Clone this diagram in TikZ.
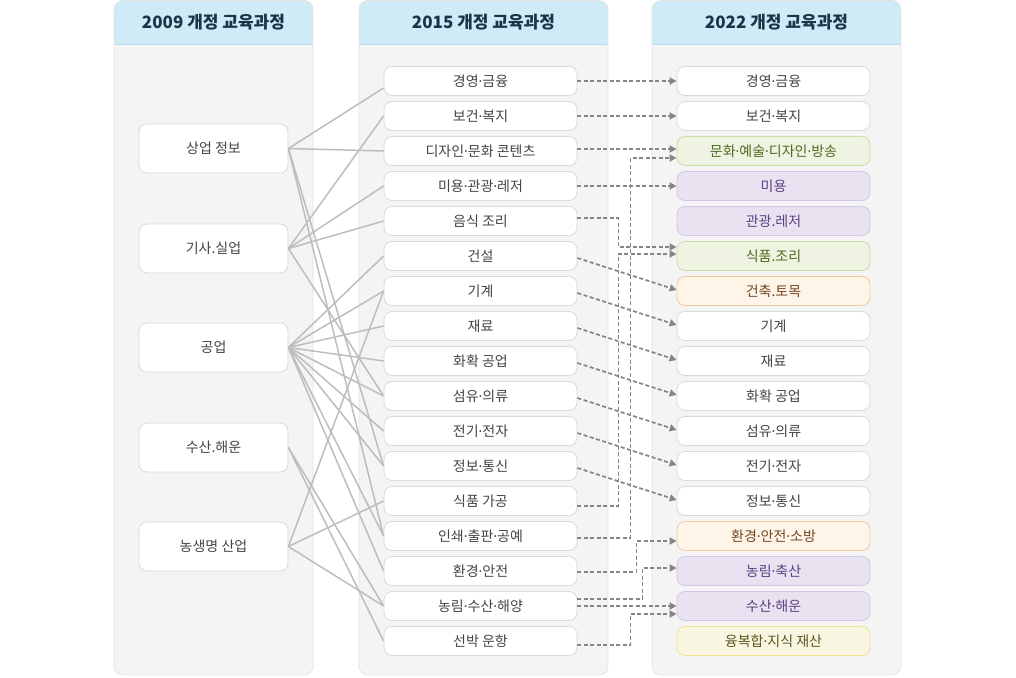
\documentclass[tikz,border=0pt]{standalone}
\usepackage{fontspec}
\setmainfont{Noto Sans CJK KR}
\newfontfamily\latinf{Noto Sans}
\newcommand\dt{{\latinf\char"00B7}}
\usetikzlibrary{arrows.meta,calc}
\definecolor{panelfill}{HTML}{F4F4F4}
\definecolor{panelline}{HTML}{E4E4E4}
\definecolor{hdrfill}{HTML}{CEEBF7}
\definecolor{hdrline}{HTML}{B9DDEC}
\definecolor{hdrtxt}{HTML}{1B3544}
\definecolor{boxline}{HTML}{DADADA}
\definecolor{txt}{HTML}{444444}
\definecolor{conncol}{HTML}{BDBDBD}
\definecolor{dashcol}{HTML}{858585}
\definecolor{gfill}{HTML}{EEF3E2}\definecolor{gline}{HTML}{C9DEA3}\definecolor{gtxt}{HTML}{4D6A1E}
\definecolor{pfill}{HTML}{E9E3F1}\definecolor{pline}{HTML}{D3C6E6}\definecolor{ptxt}{HTML}{5A3F84}
\definecolor{ofill}{HTML}{FEF4E8}\definecolor{oline}{HTML}{F1C9A1}\definecolor{otxt}{HTML}{734620}
\definecolor{yfill}{HTML}{F8F6E0}\definecolor{yline}{HTML}{EFE38E}\definecolor{ytxt}{HTML}{5B5520}
\tikzset{
  x=1pt, y=-1pt,
  basebox/.style={draw=boxline, fill=white, rounded corners=8pt, text=txt, inner sep=0pt,
    font=\fontsize{14}{16}\selectfont, line width=0.8pt},
  lbox/.style={basebox, minimum width=149pt, minimum height=49pt},
  mbox/.style={basebox, minimum width=193pt, minimum height=29pt},
  gbox/.style={draw=gline, fill=gfill, text=gtxt},
  pbox/.style={draw=pline, fill=pfill, text=ptxt},
  obox/.style={draw=oline, fill=ofill, text=otxt},
  ybox/.style={draw=yline, fill=yfill, text=ytxt},
  hdr/.style={text=hdrtxt, font=\fontsize{17}{19}\selectfont\bfseries, inner sep=0pt},
  conn/.style={draw=conncol, line width=1.5pt},
  darrow/.style={draw=dashcol, line width=1.7pt, dash pattern=on 4pt off 2.5pt,
    -{Triangle[length=7pt,width=7pt]}},
}
\begin{document}
\begin{tikzpicture}
\useasboundingbox (0,0) rectangle (1016,677);
% panels
\foreach \xa/\xb in {114/313, 359/608, 652/901}{
  \fill[panelfill, rounded corners=9pt] (\xa,0.5) rectangle (\xb,675);
  \begin{scope}
    \clip[rounded corners=9pt] (\xa,0.5) rectangle (\xb,675);
    \fill[hdrfill] (\xa,0) rectangle (\xb,44);
    \draw[hdrline, line width=0.8pt] (\xa,44) -- (\xb,44);
  \end{scope}
  \draw[panelline, line width=0.8pt, rounded corners=9pt] (\xa,0.5) rectangle (\xb,675);
}
\node[hdr] (h1) at (213.5,22) {2009 개정 교육과정};
\node[hdr] (h2) at (483.5,22) {2015 개정 교육과정};
\node[hdr] (h3) at (776.5,22) {2022 개정 교육과정};

% left nodes
\node[lbox] (l1) at (213.5,148.5) {상업 정보};
\node[lbox] (l2) at (213.5,248.5) {기사.실업};
\node[lbox] (l3) at (213.5,347.5) {공업};
\node[lbox] (l4) at (213.5,447.5) {수산.해운};
\node[lbox] (l5) at (213.5,546.5) {농생명 산업};

% middle nodes
\foreach \i/\t in {1/경영\dt 금융, 2/보건\dt 복지, 3/디자인\dt 문화 콘텐츠, 4/미용\dt 관광\dt 레저, 5/음식 조리,
  6/건설, 7/기계, 8/재료, 9/화확 공업, 10/섬유\dt 의류, 11/전기\dt 전자, 12/정보\dt 통신,
  13/식품 가공, 14/인쇄\dt 출판\dt 공예, 15/환경\dt 안전, 16/농림\dt 수산\dt 해양, 17/선박 운항}{
  \node[mbox] (m\i) at (480.5,{81+35*(\i-1)}) {\t};
}

% right nodes
\node[mbox] (r1) at (773.5,81) {경영\dt 금융};
\node[mbox] (r2) at (773.5,116) {보건\dt 복지};
\node[mbox,gbox] (r3) at (773.5,151) {문화\dt 예술\dt 디자인\dt 방송};
\node[mbox,pbox] (r4) at (773.5,186) {미용};
\node[mbox,pbox] (r5) at (773.5,221) {관광.레저};
\node[mbox,gbox] (r6) at (773.5,256) {식품.조리};
\node[mbox,obox] (r7) at (773.5,291) {건축.토목};
\node[mbox] (r8) at (773.5,326) {기계};
\node[mbox] (r9) at (773.5,361) {재료};
\node[mbox] (r10) at (773.5,396) {화확 공업};
\node[mbox] (r11) at (773.5,431) {섬유\dt 의류};
\node[mbox] (r12) at (773.5,466) {전기\dt 전자};
\node[mbox] (r13) at (773.5,501) {정보\dt 통신};
\node[mbox,obox] (r14) at (773.5,536) {환경\dt 안전\dt 소방};
\node[mbox,pbox] (r15) at (773.5,571) {농림\dt 축산};
\node[mbox,pbox] (r16) at (773.5,606) {수산\dt 해운};
\node[mbox,ybox] (r17) at (773.5,641) {융복합\dt 지식 재산};

% solid connectors 2009 -> 2015
\draw[conn] (l1.east) -- ($(m1.west)+(0,7)$);
\draw[conn] (l1.east) -- (m3.west);
\draw[conn] (l1.east) -- (m12.west);
\draw[conn] (l1.east) -- (m14.west);
\draw[conn] (l2.east) -- (m2.west);
\draw[conn] (l2.east) -- (m4.west);
\draw[conn] (l2.east) -- (m5.west);
\draw[conn] (l2.east) -- (m10.west);
\foreach \j in {6,7,8,9,10,11,12,14,15}{\draw[conn] (l3.east) -- (m\j.west);}
\draw[conn] (l4.east) -- (m16.west);
\draw[conn] (l4.east) -- (m17.west);
\draw[conn] (l5.east) -- (m7.west);
\draw[conn] (l5.east) -- (m13.west);
\draw[conn] (l5.east) -- (m16.west);

% dashed arrows 2015 -> 2022
\draw[darrow] (m1.east) -- (r1.west);
\draw[darrow] (m2.east) -- (r2.west);
\draw[darrow] ($(m3.east)+(0,-2)$) -- ($(r3.west)+(0,-2)$);
\draw[darrow] (m4.east) -- (r4.west);
\draw[darrow] ($(m5.east)+(0,-3)$) -- ++(41,0) |- ($(r6.west)+(0,-9)$);
\foreach \a/\b in {6/7,7/8,8/9,9/10,10/11,11/12,12/13}{
  \draw[darrow] ($(m\a.east)+(0,2)$) -- ($(r\b.west)+(0,-1)$);
}
\draw[darrow] ($(m13.east)+(0,5)$) -- ++(41,0) |- ($(r6.west)+(0,-2)$);
\draw[darrow] ($(m14.east)+(0,2)$) -- ++(53,0) |- ($(r3.west)+(0,7)$);
\draw[darrow] ($(m15.east)+(0,1)$) -- ++(59,0) |- ($(r14.west)+(0,5)$);
\draw[darrow] ($(m16.east)+(0,-7)$) -- ++(65,0) |- ($(r15.west)+(0,-3)$);
\draw[darrow] (m16.east) -- (r16.west);
\draw[darrow] ($(m17.east)+(0,4)$) -- ++(53,0) |- ($(r16.west)+(0,8)$);
\end{tikzpicture}
\end{document}
